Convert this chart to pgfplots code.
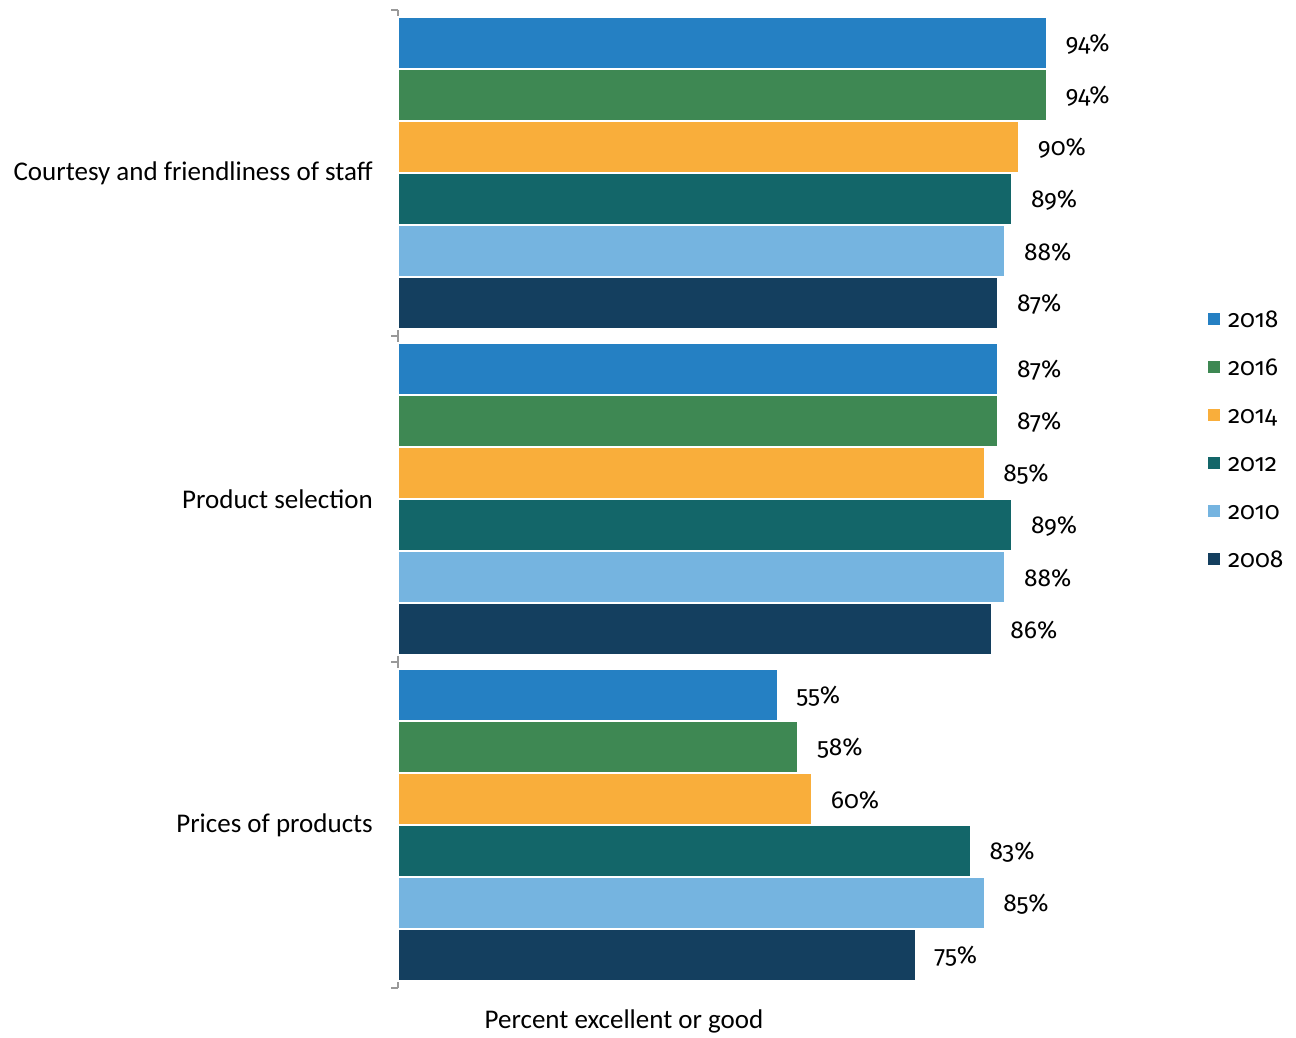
\documentclass[border=0pt]{standalone}
\usepackage{pgfplots}
\pgfplotsset{compat=1.18}
\usepackage{fontspec}
\setmainfont{Carlito}
\newfontfamily\numfont{Fira Sans}[Numbers=OldStyle]
\definecolor{c18}{HTML}{2580C3}
\definecolor{c16}{HTML}{3E8853}
\definecolor{c14}{HTML}{F9AE3B}
\definecolor{c12}{HTML}{136669}
\definecolor{c10}{HTML}{75B4E0}
\definecolor{c08}{HTML}{143F5F}
\definecolor{axgray}{HTML}{999999}
\begin{document}
\fontsize{27pt}{32pt}\selectfont
\begin{tikzpicture}
\path[use as bounding box] (0,0) rectangle (1296pt,-1038pt);
\begin{axis}[
  at={(398pt,-988pt)}, anchor=south west,
  scale only axis, width=690pt, height=978pt,
  xmin=0, xmax=100, ymin=-0.5, ymax=2.5,
  xbar, bar width=52pt,
  hide x axis,
  axis y line*=left,
  y axis line style={axgray, line width=1.5pt},
  ytick={0,1,2},
  yticklabels={Prices of products, Product selection, Courtesy and friendliness of staff},
  major tick length=0pt,
  yticklabel style={font=\fontsize{27pt}{32pt}\selectfont, xshift=-16pt},
  extra y ticks={-0.5,0.5,1.5,2.5},
  extra y tick labels={},
  extra y tick style={major tick length=7pt, tick align=outside, tick style={axgray, line width=1.5pt}},
  /pgf/number format/assume math mode=true,
  nodes near coords={\pgfmathprintnumber{\pgfplotspointmeta}\%},
  nodes near coords align={horizontal},
  every node near coord/.append style={font=\numfont\fontsize{24.5pt}{28pt}\selectfont, xshift=9pt, yshift=-1.5pt, black},
  every axis plot/.append style={draw=white, line width=1.8pt},
  legend style={at={(1.174,0.690)}, anchor=north west, draw=none, fill=none, inner sep=0pt, outer sep=0pt,
    font=\numfont\fontsize{24.5pt}{28pt}\selectfont, row sep=34pt,
    nodes={inner sep=0pt, text height=14pt, text depth=0pt, anchor=base west},
    /tikz/every odd column/.append style={column sep=8pt}},
  legend image code/.code={\fill[#1,draw=none] (0pt,2pt) rectangle (12pt,14pt);},
  clip=false,
]
\addplot[fill=c18, bar shift=130pt] coordinates {(94,2) (87,1) (55,0)};
\addplot[fill=c16, bar shift=78pt] coordinates {(94,2) (87,1) (58,0)};
\addplot[fill=c14, bar shift=26pt] coordinates {(90,2) (85,1) (60,0)};
\addplot[fill=c12, bar shift=-26pt] coordinates {(89,2) (89,1) (83,0)};
\addplot[fill=c10, bar shift=-78pt] coordinates {(88,2) (88,1) (85,0)};
\addplot[fill=c08, bar shift=-130pt] coordinates {(87,2) (86,1) (75,0)};
\legend{2018,2016,2014,2012,2010,2008}
\end{axis}
\node[font=\fontsize{27pt}{32pt}\selectfont] at (624pt,-1021pt) {Percent excellent or good};
\end{tikzpicture}
\end{document}
